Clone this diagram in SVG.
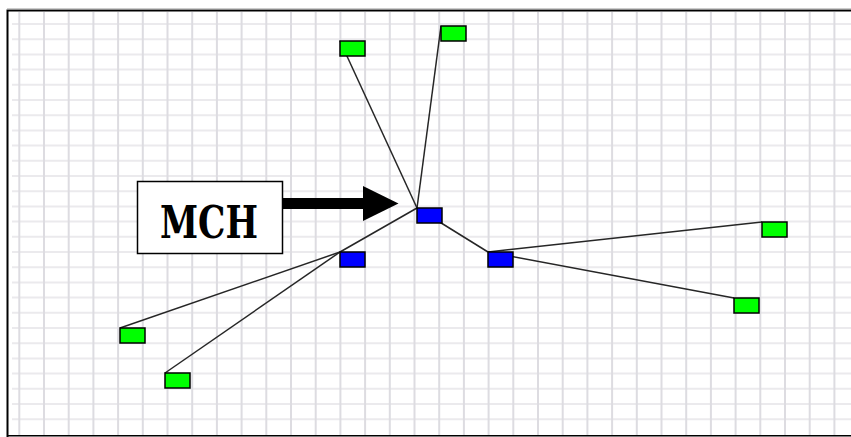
<svg xmlns="http://www.w3.org/2000/svg" width="851" height="437" viewBox="0 0 851 437">
<style>
.gv{stroke:#dddce1;stroke-width:2;fill:none}
.gh{stroke:#ebeaed;stroke-width:2;fill:none}
.edge{stroke:#262626;stroke-width:1.5;fill:none}
.leaf{fill:#00ff00;stroke:#000;stroke-width:1.5}
.hub{fill:#0000ff;stroke:#000;stroke-width:1.5}
.lbl{font-family:"DejaVu Serif","Liberation Serif",serif;font-weight:bold;font-size:45px;fill:#000}
</style>
<rect width="851" height="437" fill="#fff"/>
<g id="grid">
<path class="gh" d="M12 24H851M12 39.2H851M12 54.4H851M12 69.6H851M12 84.8H851M12 100H851M12 115.2H851M12 130.4H851M12 145.6H851M12 160.8H851M12 176H851M12 191.2H851M12 206.4H851M12 221.6H851M12 236.8H851M12 252H851M12 267.2H851M12 282.4H851M12 297.6H851M12 312.8H851M12 328H851M12 343.2H851M12 358.4H851M12 373.6H851M12 388.8H851M12 404H851M12 419.2H851"/>
<path class="gv" d="M19.3 12V435M44 12V435M68.7 12V435M93.4 12V435M118.1 12V435M142.8 12V435M167.5 12V435M192.2 12V435M216.9 12V435M241.6 12V435M266.3 12V435M291 12V435M315.7 12V435M340.4 12V435M365.1 12V435M389.8 12V435M414.5 12V435M439.2 12V435M463.9 12V435M488.6 12V435M513.3 12V435M538 12V435M562.7 12V435M587.4 12V435M612.1 12V435M636.8 12V435M661.5 12V435M686.2 12V435M710.9 12V435M735.6 12V435M760.3 12V435M785 12V435M809.7 12V435M834.4 12V435"/>
</g>
<g id="frame">
<path d="M7.5 437V10.5H851" fill="none" stroke="#000" stroke-width="2"/>
<path d="M7 9H851" stroke="#999" stroke-width="1"/>
<path d="M7 435.7H851" stroke="#000" stroke-width="1.5"/>
</g>
<g id="connectors">
<line class="edge" x1="417" y1="208" x2="340" y2="41"/>
<line class="edge" x1="417" y1="208" x2="441" y2="26"/>
<line class="edge" x1="417" y1="208" x2="340" y2="252"/>
<line class="edge" x1="417" y1="208" x2="488" y2="252"/>
<line class="edge" x1="340" y1="252" x2="120" y2="328"/>
<line class="edge" x1="340" y1="252" x2="165" y2="373"/>
<line class="edge" x1="488" y1="252" x2="762" y2="222"/>
<line class="edge" x1="488" y1="252" x2="734" y2="298"/>
</g>
<g id="n-top-left"><rect class="leaf" x="340" y="41" width="25" height="15"/></g>
<g id="n-top"><rect class="leaf" x="441" y="26" width="25" height="15"/></g>
<g id="n-center"><rect class="hub" x="417" y="208" width="25" height="15"/></g>
<g id="n-hub-left"><rect class="hub" x="340" y="252" width="25" height="15"/></g>
<g id="n-hub-right"><rect class="hub" x="488" y="252" width="25" height="15"/></g>
<g id="n-right-top"><rect class="leaf" x="762" y="222" width="25" height="15"/></g>
<g id="n-right-bottom"><rect class="leaf" x="734" y="298" width="25" height="15"/></g>
<g id="n-left"><rect class="leaf" x="120" y="328" width="25" height="15"/></g>
<g id="n-bottom-left"><rect class="leaf" x="165" y="373" width="25" height="15"/></g>
<g id="mch-label">
<rect x="137.5" y="181.5" width="145" height="72" fill="#fff" stroke="#000" stroke-width="1.5"/>
<text class="lbl" x="160" y="238" textLength="98" lengthAdjust="spacingAndGlyphs">MCH</text>
</g>
<g id="mch-arrow">
<rect x="283" y="198" width="81" height="11" fill="#000"/>
<polygon points="363,186 398.5,203.5 363,221" fill="#000"/>
</g>
</svg>
